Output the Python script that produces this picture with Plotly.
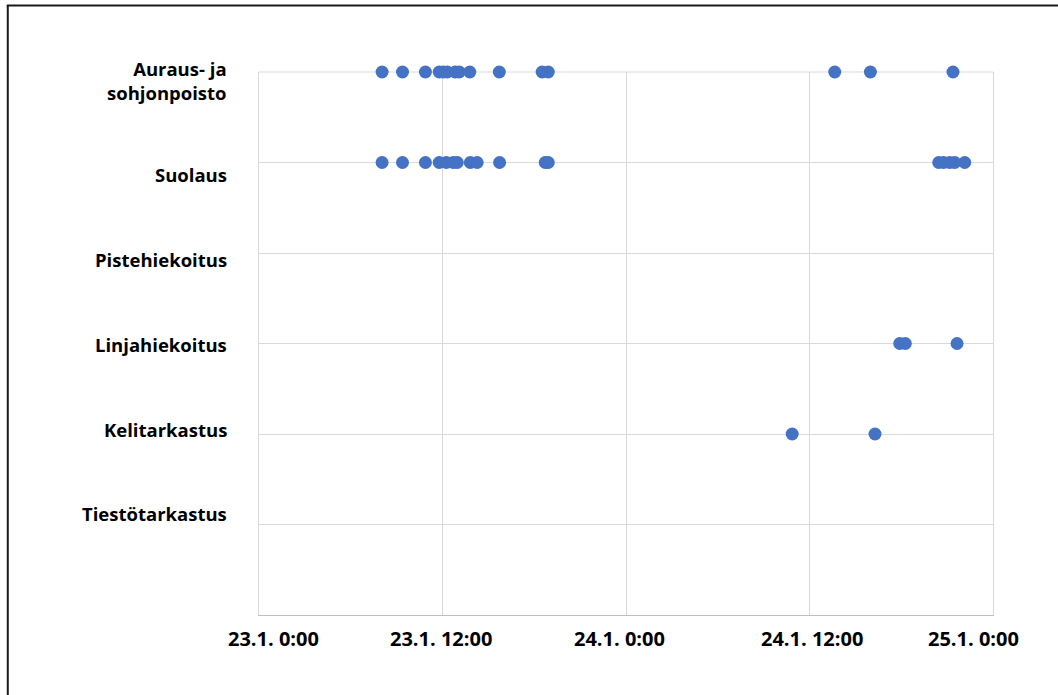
import plotly.graph_objects as go

# ---- data ----
categories = ["Auraus- ja<br>sohjonpoisto", "Suolaus", "Pistehiekoitus",
              "Linjahiekoitus", "Kelitarkastus", "Tiestötarkastus"]
category_levels = [6, 5, 4, 3, 2, 1]

auraus_times = ["2021-01-23 08:03", "2021-01-23 09:23", "2021-01-23 10:53",
                "2021-01-23 11:47", "2021-01-23 12:03", "2021-01-23 12:19",
                "2021-01-23 12:50", "2021-01-23 13:06", "2021-01-23 13:47",
                "2021-01-23 15:43", "2021-01-23 18:31", "2021-01-23 18:55",
                "2021-01-24 13:39", "2021-01-24 15:59", "2021-01-24 21:23"]
suolaus_times = ["2021-01-23 08:03", "2021-01-23 09:23", "2021-01-23 10:53",
                 "2021-01-23 11:47", "2021-01-23 12:15", "2021-01-23 12:42",
                 "2021-01-23 12:58", "2021-01-23 13:49", "2021-01-23 14:16",
                 "2021-01-23 15:44", "2021-01-23 18:43", "2021-01-23 18:55",
                 "2021-01-24 20:27", "2021-01-24 20:46", "2021-01-24 21:10",
                 "2021-01-24 21:30", "2021-01-24 22:09"]
pistehiekoitus_times = []
linjahiekoitus_times = ["2021-01-24 17:54", "2021-01-24 18:16", "2021-01-24 21:39"]
kelitarkastus_times = ["2021-01-24 10:52", "2021-01-24 16:17"]
tiestotarkastus_times = []

series_times = [auraus_times, suolaus_times, pistehiekoitus_times,
                linjahiekoitus_times, kelitarkastus_times, tiestotarkastus_times]

tick_vals = ["2021-01-23 00:00", "2021-01-23 12:00", "2021-01-24 00:00",
             "2021-01-24 12:00", "2021-01-25 00:00"]
tick_text = ["23.1. 0:00", "23.1. 12:00", "24.1. 0:00", "24.1. 12:00", "25.1. 0:00"]

# ---- layout constants (pixels) ----
W, H = 1058, 695
L, R, T, B = 258.5, 993.3, 72, 615
pw, ph = R - L, B - T
FONT = "Open Sans"
FS = 18.5
TFS = 20
blue = "#4472C4"

fig = go.Figure()
for name, times, lvl in zip(categories, series_times, category_levels):
    fig.add_trace(go.Scatter(
        x=times, y=[lvl] * len(times), mode="markers", name=name,
        marker=dict(color=blue, size=13, line=dict(width=0)),
        cliponaxis=False, showlegend=False,
    ))


def px_x(x):
    return (x - L) / pw


def px_y(y):
    return (B - y) / ph


# category labels (text boxes offset from gridlines like in the original)
label_px = [81, 175, 259.5, 344, 429, 513.5]
annotations = []
for text, ypx in zip(categories, label_px):
    annotations.append(dict(
        text="<b>" + text.replace("<br>", "</b><br><b>") + "</b>",
        xref="paper", yref="paper",
        x=px_x(228), y=px_y(ypx),
        xanchor="right", yanchor="middle", align="right",
        showarrow=False,
        font=dict(family=FONT, size=FS, color="#000000"),
    ))

# x tick labels, placed as in the original (not exactly centred on ticks)
tick_label_px = [273, 440.5, 619, 812, 974]
for text, xpx in zip(tick_text, tick_label_px):
    annotations.append(dict(
        text="<b>%s</b>" % text, xref="paper", yref="paper",
        x=px_x(xpx), y=px_y(638), xanchor="center", yanchor="middle",
        showarrow=False,
        font=dict(family=FONT, size=TFS, color="#000000"),
    ))

shapes = [
    # top plot border
    dict(type="line", xref="paper", yref="paper", x0=0, x1=1, y0=1, y1=1,
         line=dict(color="#d9d9d9", width=1), layer="below"),
    # outer chart frame (left and top visible)
    dict(type="line", xref="paper", yref="paper", x0=px_x(7), x1=px_x(7),
         y0=px_y(5), y1=px_y(710), line=dict(color="#1a1a1a", width=2)),
    dict(type="line", xref="paper", yref="paper", x0=px_x(6), x1=px_x(1070),
         y0=px_y(5.5), y1=px_y(5.5), line=dict(color="#1a1a1a", width=2)),
]

fig.update_layout(
    width=W, height=H,
    margin=dict(l=L, r=W - R, t=T, b=H - B, pad=0),
    paper_bgcolor="white", plot_bgcolor="white",
    annotations=annotations, shapes=shapes,
    font=dict(family=FONT, size=FS, color="#000000"),
)
fig.update_xaxes(
    type="date", range=["2021-01-23 00:00", "2021-01-25 00:00"],
    tickvals=tick_vals, ticktext=tick_text, showticklabels=False,
    showgrid=True, gridcolor="#d9d9d9", gridwidth=1,
    showline=True, linecolor="#bfbfbf", linewidth=1,
    zeroline=False, ticks="",
)
fig.update_yaxes(
    range=[0, 6], tickvals=[0, 1, 2, 3, 4, 5, 6], showticklabels=False,
    showgrid=True, gridcolor="#d9d9d9", gridwidth=1,
    showline=True, linecolor="#d9d9d9", mirror=True, zeroline=False, ticks="",
)

fig.write_html("out.html", config={"displayModeBar": False})
